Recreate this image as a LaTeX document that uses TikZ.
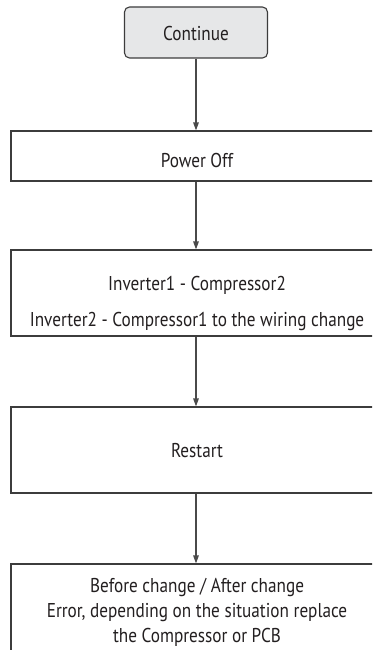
\documentclass[tikz,border=0pt]{standalone}
\usepackage{fontspec}
\setmainfont{PT Sans}[FakeStretch=0.86]
\usetikzlibrary{arrows.meta}
\definecolor{boxfill}{HTML}{E6E7E8}
\definecolor{linec}{HTML}{3C3C3C}
\definecolor{arrc}{HTML}{4A4A4A}
\definecolor{txtc}{HTML}{231F20}
\newcommand{\lowerby}[2]{\raisebox{0pt}[\dimexpr\height+#1*2\relax]{#2}}
\tikzset{
  box/.style={draw=linec, line width=1.1pt, minimum width=372pt, inner sep=0pt,
    text=txtc, align=center, font=\fontsize{20}{24}\selectfont},
  startbox/.style={box, fill=boxfill, rounded corners=5pt, minimum width=143pt, minimum height=51pt},
  flow/.style={draw=arrc, line width=1.2pt, -{Triangle[length=8pt,width=5.5pt]}}
}
\begin{document}
\begin{tikzpicture}[x=1pt,y=-1pt]
\clip (0,0) rectangle (372,650);
\fill[white] (0,0) rectangle (372,650);
\node[startbox] (cont) at (196,32.5) {\lowerby{1pt}{Continue}};
\node[box, minimum height=50pt] (pwr) at (197,156) {\lowerby{4pt}{Power Off}};
\node[box, minimum height=86pt] (inv) at (197,293) {\lowerby{11pt}{\begin{tabular}{@{}c@{}}Inverter1 - Compressor2\\[12pt]Inverter2 - Compressor1 to the wiring change\end{tabular}}};
\node[box, minimum height=86pt] (rst) at (197,450) {\lowerby{1pt}{Restart}};
\node[box, minimum height=120pt, text height=0pt, text depth=0pt] (fin) at (197,624) {};
\node[text=txtc, align=center, font=\fontsize{20}{25}\selectfont, anchor=north, inner sep=0pt] (fintext) at (197,578) {Before change / After change\\Error, depending on the situation replace\\the Compressor or PCB};
\draw[flow] (cont.south) -- (cont.south |- pwr.north);
\draw[flow] (cont.south |- pwr.south) -- (cont.south |- inv.north);
\draw[flow] (cont.south |- inv.south) -- (cont.south |- rst.north);
\draw[flow] (cont.south |- rst.south) -- (cont.south |- fin.north);
\end{tikzpicture}
\end{document}
